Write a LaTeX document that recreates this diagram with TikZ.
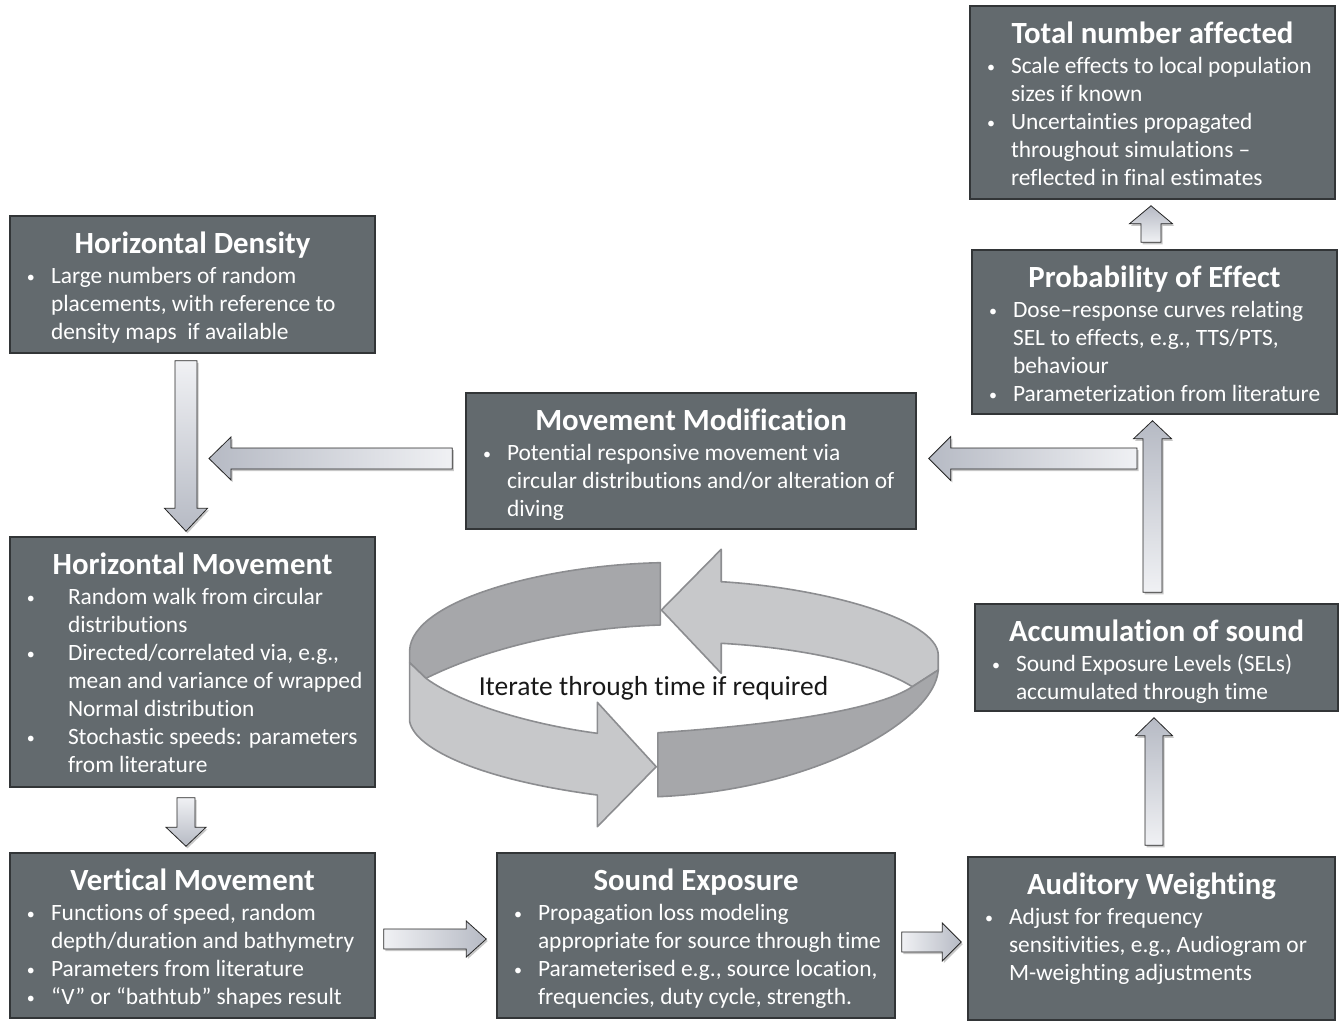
\documentclass[tikz,border=0pt]{standalone}
\usepackage{fontspec}
\setmainfont{Carlito}[Ligatures=NoCommon]
\usetikzlibrary{calc,shadows}
\definecolor{boxfill}{RGB}{99,106,110}
\definecolor{boxline}{RGB}{50,53,55}
\definecolor{arrdark}{RGB}{182,186,196}
\definecolor{arrlite}{RGB}{240,241,244}
\definecolor{ringdark}{RGB}{166,167,170}
\definecolor{ringlite}{RGB}{199,200,202}
\definecolor{ringline}{RGB}{140,141,144}
% box content: width, height, title, bullets
\newcommand{\boxtext}[4]{\parbox[c][#2pt][t]{#1pt}{\parindent=0pt\vspace*{11pt}%
{\centering\fontsize{30.8}{36}\selectfont\bfseries\rule{0pt}{26pt}#3\par}\vspace{2.5pt}#4}}
\newcommand{\bitem}[2][24pt]{{\leftskip=17pt\rightskip=-30pt\hangindent=#1\hangafter=1\noindent\makebox[#1][l]{\raisebox{1.5pt}{\fontsize{16}{16}\selectfont•}}#2\par}}
\newcommand{\arrdown}[5]{\path[blockarr, top color=arrlite, bottom color=arrdark] let \p1=(#1), \p2=(#2) in
 (\x1-#3pt,\y1) -- (\x1+#3pt,\y1) -- (\x1+#3pt,\y2+#5pt) -- (\x1+#4pt,\y2+#5pt) -- (\x1,\y2) -- (\x1-#4pt,\y2+#5pt) -- (\x1-#3pt,\y2+#5pt) -- cycle;}
\newcommand{\arrup}[5]{\path[blockarr, top color=arrdark, bottom color=arrlite] let \p1=(#1), \p2=(#2) in
 (\x1-#3pt,\y1) -- (\x1+#3pt,\y1) -- (\x1+#3pt,\y2-#5pt) -- (\x1+#4pt,\y2-#5pt) -- (\x1,\y2) -- (\x1-#4pt,\y2-#5pt) -- (\x1-#3pt,\y2-#5pt) -- cycle;}
\newcommand{\arrleft}[5]{\path[blockarr, left color=arrdark, right color=arrlite] let \p1=(#1), \p2=(#2) in
 (\x1,\y1-#3pt) -- (\x1,\y1+#3pt) -- (\x2+#5pt,\y1+#3pt) -- (\x2+#5pt,\y1+#4pt) -- (\x2,\y1) -- (\x2+#5pt,\y1-#4pt) -- (\x2+#5pt,\y1-#3pt) -- cycle;}
\newcommand{\arrright}[5]{\path[blockarr, left color=arrlite, right color=arrdark] let \p1=(#1), \p2=(#2) in
 (\x1,\y1-#3pt) -- (\x1,\y1+#3pt) -- (\x2-#5pt,\y1+#3pt) -- (\x2-#5pt,\y1+#4pt) -- (\x2,\y1) -- (\x2-#5pt,\y1-#4pt) -- (\x2-#5pt,\y1-#3pt) -- cycle;}
\begin{document}
\begin{tikzpicture}[x=1pt,y=-1pt,
  infobox/.style={draw=boxline, line width=1.5pt, fill=boxfill, text=white, inner sep=0pt, font=\fontsize{23.4}{28}\selectfont},
  blockarr/.style={draw=black!85, line width=0.8pt, drop shadow={shadow xshift=1.5pt, shadow yshift=-2pt, opacity=0.22, fill=black}},
  ringpart/.style={draw=ringline, line width=1.6pt, line join=round}]
\useasboundingbox (0,0) rectangle (1340,1023);

% boxes
\node[infobox] (hd) at (192.5,284.5) {\boxtext{365}{137}{Horizontal Density}{%
\bitem{Large numbers of random\newline placements, with reference to\newline density maps\ \ if available}}};

\node[infobox] (hm) at (192.5,662) {\boxtext{365}{250}{Horizontal Movement}{%
\bitem[41pt]{Random walk from circular\newline distributions}
\bitem[41pt]{Directed/correlated via, e.g.,\newline mean and variance of wrapped\newline Normal distribution}
\bitem[41pt]{Stochastic speeds: parameters\newline from literature}}};

\node[infobox] (vm) at (192.5,935.5) {\boxtext{365}{165}{Vertical Movement}{%
\bitem{Functions of speed, random\newline depth/duration and bathymetry}
\bitem{Parameters from literature}
\bitem{“V” or “bathtub” shapes result}}};

\node[infobox] (mm) at (691,461) {\boxtext{450}{136}{Movement Modification}{%
\bitem{Potential responsive movement via\newline circular distributions and/or alteration of\newline diving}}};

\node[infobox] (se) at (696,935.5) {\boxtext{398}{165}{Sound Exposure}{%
\bitem{Propagation loss modeling\newline appropriate for source through time}
\bitem{Parameterised e.g., source location,\newline frequencies, duty cycle, strength.}}};

\node[infobox] (aw) at (1151.5,938.5) {\boxtext{367}{163}{Auditory Weighting}{%
\bitem{Adjust for frequency\newline sensitivities, e.g., Audiogram or\newline M-weighting adjustments}}};

\node[infobox] (acc) at (1156.5,657.5) {\boxtext{363}{107}{Accumulation of sound}{%
\bitem{Sound Exposure Levels (SELs)\newline accumulated through time}}};

\node[infobox] (poe) at (1154.5,332) {\boxtext{365}{164}{Probability of Effect}{%
\bitem{Dose–response curves relating\newline SEL to effects, e.g., TTS/PTS,\newline behaviour}
\bitem{Parameterization from literature}}};

\node[infobox] (tna) at (1152.5,102.5) {\boxtext{365}{193}{Total number affected}{%
\bitem{Scale effects to local population\newline sizes if known}
\bitem{Uncertainties propagated\newline throughout simulations –\newline reflected in final estimates}}};

% free ends of the two side arrows
\coordinate (mmtip) at (209,458.5);
\coordinate (poetail) at (1137,458.5);

% block arrows
\arrdown{$(hd.south)+(-6.5,7)$}{$(hm.north)+(-6.5,-5)$}{11}{21.5}{23}
\arrleft{$(mm.west)+(-13,-2.5)$}{mmtip}{10.5}{21.5}{22}
\arrdown{$(hm.south)+(-6.5,10)$}{$(vm.north)+(-6.5,-6)$}{9}{20}{19}
\arrright{$(vm.east)+(8,3.5)$}{$(se.west)+(-10,3.5)$}{10}{18}{20}
\arrright{$(se.east)+(6,6.5)$}{$(aw.west)+(-6,3.5)$}{10}{19}{19}
\arrup{$(aw.north)+(2.5,-11)$}{$(acc.south)+(-2.5,6)$}{9}{18.5}{18}
\arrup{$(acc.north)+(-4,-11)$}{$(poe.south)+(-2,6)$}{9.5}{19}{18}
\arrleft{poetail}{$(mm.east)+(12,-2.5)$}{10.5}{22}{22}
\arrup{$(poe.north)+(-3.5,-7)$}{$(tna.south)+(-1.5,6)$}{10}{21.5}{18}

% circular iteration arrow
\begin{scope}[shift={(400,0)}, xscale=1.0385, shift={(-400,0)}]
\path[ringpart, fill=ringdark] (650.7,562.7) .. controls (540,565) and (412,600) .. (409.3,650)
  -- (409.3,662.7) -- (425,678.3) .. controls (480,650) and (560,628) .. (650.7,625) -- cycle;
\path[ringpart, fill=ringlite] (651.7,610) -- (709.3,549.3) -- (709.3,581.7)
  .. controls (810,588) and (918,620) .. (918.3,655) -- (918.3,670) -- (893.3,686.7)
  .. controls (860,665) and (790,648) .. (709.3,643.3) -- (709.3,673.3) -- cycle;
\path[ringpart, fill=ringlite] (409.3,662.7) -- (409.3,721.7)
  .. controls (415,750) and (480,780) .. (590,795) -- (590,826.7) -- (646.7,766.7)
  -- (590,702.3) -- (590,733.3) .. controls (530,725) and (460,705) .. (425,678.3) -- cycle;
\path[ringpart, fill=ringdark] (648.3,732.7) .. controls (760,725) and (860,710) .. (893.3,686.7)
  -- (918.3,670) .. controls (915,720) and (800,790) .. (648.3,796.7) -- cycle;
\end{scope}
\node[font=\fontsize{27.5}{33}\selectfont, text=black!90] (iter) at (653.5,688) {Iterate through time if required};
\end{tikzpicture}
\end{document}
